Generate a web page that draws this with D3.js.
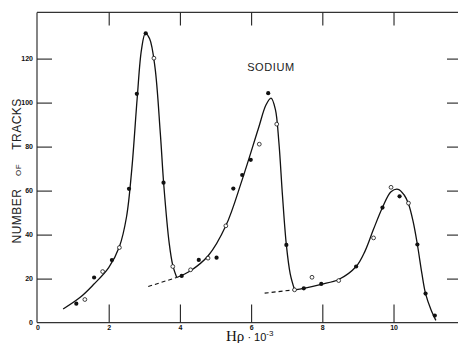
<!DOCTYPE html>
<html>
<head>
<meta charset="utf-8">
<script src="https://cdn.jsdelivr.net/npm/d3@7"></script>
<style>
  body { margin: 0; background: #fff; }
  svg { display: block; }
  .tick text { font-family: "Liberation Sans", Arial, sans-serif; font-size: 7px; font-weight: bold; fill: #111; }
  .tick line { stroke: #222; stroke-width: 1.1; }
</style>
</head>
<body>
<div class="plot"></div>
<script>
// H rho * 10^-3 vs number of tracks (sodium)
const filledPts = [
  [1.09, 8.6], [1.59, 20.5], [2.09, 28.4], [2.57, 60.8], [2.79, 104], [3.04, 131.5],
  [3.54, 63.6], [4.05, 21.2], [4.53, 28.5], [5.03, 29.5], [5.50, 60.9], [5.75, 67.1],
  [5.99, 74], [6.48, 104.3], [6.99, 35.3], [7.48, 15.6], [7.97, 17.6], [8.95, 25.5],
  [9.69, 52.3], [10.17, 57.4], [10.67, 35.5], [10.90, 13.2], [11.16, 3.2]
];
const openPts = [
  [1.33, 10.5], [1.83, 23.2], [2.30, 34.1], [3.27, 120.2], [3.80, 25.5], [4.30, 24],
  [4.79, 29.3], [5.29, 44], [6.23, 81.1], [6.72, 90.2], [7.22, 14.9], [7.71, 20.6],
  [8.46, 19.1], [9.44, 38.5], [9.93, 61.5], [10.42, 54.3]
];
// fitted curve, three pieces (corners at the minima)
const curveA = [
  [0.72, 6.2], [1.2, 11.5], [1.58, 17.4], [2.0, 25], [2.3, 34.5], [2.5, 48], [2.65, 70],
  [2.8, 102], [2.92, 124], [3.03, 131.5], [3.15, 129], [3.3, 116], [3.45, 86], [3.55, 62],
  [3.7, 36], [3.8, 26], [3.91, 20.5]
];
const curveB = [
  [3.91, 20.5], [4.3, 23.6], [4.8, 30.5], [5.29, 44], [5.75, 65], [6.2, 88],
  [6.42, 99], [6.56, 102], [6.68, 97], [6.78, 82], [6.88, 58], [6.99, 35.3],
  [7.1, 22], [7.22, 14.9]
];
const curveC = [
  [7.22, 14.9], [7.48, 15.6], [7.97, 17.4], [8.46, 19.6], [8.95, 25.5], [9.2, 32.5],
  [9.44, 42.5], [9.69, 52.3], [9.93, 59.5], [10.13, 60.6], [10.3, 58], [10.42, 54],
  [10.55, 46], [10.67, 35.5], [10.8, 22], [10.9, 13.2], [11.05, 6], [11.19, 1]
];
const base1 = [[3.11, 16.4], [3.91, 20.5]];
const base2 = [[6.38, 13.4], [7.22, 14.9]];
const xTicks = [0, 2, 4, 6, 8, 10];
const yTicks = [0, 20, 40, 60, 80, 100, 120];

const width = 458, height = 343;

const svg = d3.select(".plot").append("svg")
    .attr("width", width)
    .attr("height", height);

const x = d3.scaleLinear().domain([0, 11.8]).range([37.5, 457.6]);
const y = d3.scaleLinear().domain([0, 141]).range([322.6, 12.4]);

// frame lines
svg.append("line").attr("x1", 37).attr("x2", width).attr("y1", y(0)).attr("y2", y(0))
    .attr("stroke", "#333").attr("stroke-width", 1.2);
svg.append("line").attr("x1", 37).attr("x2", width).attr("y1", y(141)).attr("y2", y(141))
    .attr("stroke", "#333").attr("stroke-width", 1.2);
svg.append("line").attr("x1", 37).attr("x2", 37).attr("y1", y(141)).attr("y2", y(0))
    .attr("stroke", "#333").attr("stroke-width", 1.2);

// bottom axis (ticks point inward)
svg.append("g")
    .attr("transform", "translate(0," + y(0) + ")")
    .call(d3.axisBottom(x).tickValues(xTicks).tickSize(-18).tickSizeOuter(0).tickPadding(2))
    .call(g => g.select(".domain").remove())
    .call(g => g.selectAll(".tick line").filter(d => d === 0).remove());

// top ticks
svg.append("g")
    .attr("transform", "translate(0," + y(141) + ")")
    .call(d3.axisTop(x).tickValues([2, 4, 6, 8, 10]).tickSize(-13).tickFormat(""))
    .call(g => g.select(".domain").remove());

// left axis
svg.append("g")
    .attr("transform", "translate(37,0)")
    .call(d3.axisLeft(y).tickValues(yTicks).tickSize(-15).tickPadding(4))
    .call(g => g.select(".domain").remove())
    .call(g => g.selectAll(".tick line").filter(d => d === 0).remove())
    .call(g => g.selectAll(".tick text").attr("dy", "0.2em"));

// right ticks
svg.append("g")
    .attr("transform", "translate(" + width + ",0)")
    .call(d3.axisRight(y).tickValues(yTicks.slice(1)).tickSize(-11).tickFormat(""))
    .call(g => g.select(".domain").remove());

// fitted curve
const line = d3.line()
    .x(d => x(d[0]))
    .y(d => y(d[1]))
    .curve(d3.curveCatmullRom.alpha(0.5));

[curveA, curveB, curveC].forEach(c => {
    svg.append("path").datum(c)
        .attr("d", line)
        .attr("fill", "none")
        .attr("stroke", "#111")
        .attr("stroke-width", 1.3);
});

[base1, base2].forEach(b => {
    svg.append("path").datum(b)
        .attr("d", d3.line().x(d => x(d[0])).y(d => y(d[1])))
        .attr("fill", "none")
        .attr("stroke", "#111")
        .attr("stroke-width", 1.1)
        .attr("stroke-dasharray", "4,3");
});

// data points
svg.append("g").selectAll("circle").data(filledPts).enter()
    .append("circle")
    .attr("cx", d => x(d[0]))
    .attr("cy", d => y(d[1]))
    .attr("r", 2.1)
    .attr("fill", "#111");

svg.append("g").selectAll("circle").data(openPts).enter()
    .append("circle")
    .attr("cx", d => x(d[0]))
    .attr("cy", d => y(d[1]))
    .attr("r", 1.9)
    .attr("fill", "#fff")
    .attr("stroke", "#111")
    .attr("stroke-width", 0.8);

// labels
svg.append("text")
    .attr("x", 271).attr("y", 71)
    .attr("text-anchor", "middle")
    .style("font-family", "'Liberation Sans', Arial, sans-serif")
    .style("font-size", "11px")
    .style("letter-spacing", "0.6px")
    .attr("fill", "#222")
    .text("SODIUM");

const yLab = [["NUMBER", 216, 12], ["OF", 170, 8], ["TRACKS", 124, 12]];
yLab.forEach(t => {
    svg.append("text")
        .attr("transform", "translate(21," + t[1] + ") rotate(-90)")
        .attr("text-anchor", "middle")
        .style("font-family", "'Liberation Sans', Arial, sans-serif")
        .style("font-size", t[2] + "px")
        .style("letter-spacing", "0.5px")
        .attr("fill", "#222")
        .text(t[0]);
});

const xt = svg.append("text")
    .attr("x", 226).attr("y", 341)
    .style("font-family", "'Liberation Serif', 'DejaVu Serif', serif")
    .attr("fill", "#111");
xt.append("tspan").style("font-size", "15px").text("Hρ");
xt.append("tspan").style("font-size", "11px").style("font-family", "'Liberation Sans', sans-serif").text(" · 10");
xt.append("tspan").style("font-size", "8px").style("font-family", "'Liberation Sans', sans-serif").attr("dy", -5).text("-3");
</script>
</body>
</html>
